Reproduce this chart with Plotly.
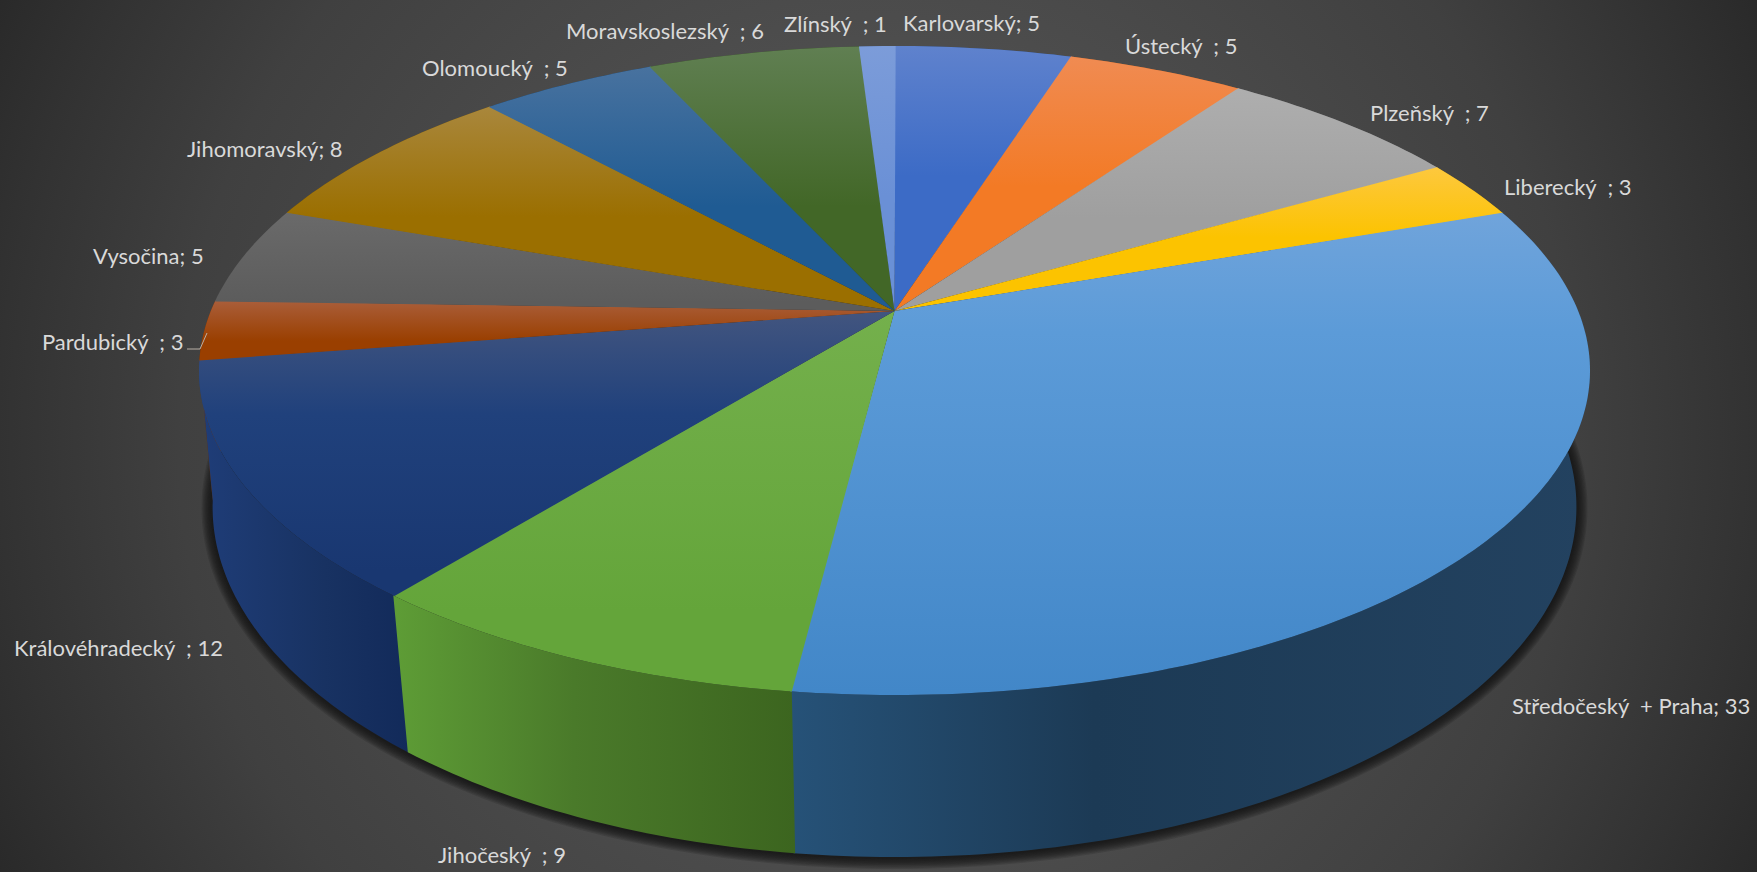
import numpy as np
import plotly.graph_objects as go

# ---- data ----
categories = ["Karlovarský", "Ústecký  ", "Plzeňský  ", "Liberecký  ", "Středočeský  + Praha", "Jihočeský  ",
              "Královéhradecký  ", "Pardubický  ", "Vysočina", "Jihomoravský", "Olomoucký  ",
              "Moravskoslezský  ", "Zlínský  "]
values = [5, 5, 7, 3, 33, 9, 12, 3, 5, 8, 5, 6, 1]

# ---- styles ----
top_stops = [
    [(0, "#5f82cd"), (1, "#3c6bc6")],
    [(0, "#f08b52"), (1, "#f37a25")],
    [(0, "#aeaeae"), (1, "#9f9f9f")],
    [(0, "#fdc83e"), (1, "#fcc300")],
    [(0, "#70a4db"), (0.25, "#5c9bd8"), (1, "#4287c8")],
    [(0, "#74b04c"), (1, "#64a53a")],
    [(0, "#42557f"), (0.4, "#20417c"), (1, "#193771")],
    [(0, "#aa5e3a"), (1, "#9a3f00")],
    [(0, "#6a6a6a"), (1, "#5c5c5c")],
    [(0, "#a9873c"), (1, "#9b6f00")],
    [(0, "#48729f"), (1, "#1f5b93")],
    [(0, "#607f52"), (1, "#426727")],
    [(0, "#7c9cd9"), (1, "#6a90d6")],
]
top_reach = [130, 130, 130, 70, 480, 300, 260, 40, 90, 110, 140, 160, 150]
wall_stops = [
    [(0, "#2c4f8c"), (1, "#2c4f8c")],
    [(0, "#a8561b"), (1, "#a8561b")],
    [(0, "#6e6e6e"), (1, "#6e6e6e")],
    [(0, "#ad8600"), (1, "#ad8600")],
    [(0, "#265278"), (0.38, "#1c3a55"), (1, "#234260")],
    [(0, "#5e9d36"), (0.45, "#4a7a2a"), (1, "#3c651f")],
    [(0, "#1f3d78"), (0.6, "#183262"), (1, "#122a5a")],
    [(0, "#6b2d00"), (1, "#6b2d00")],
    [(0, "#404040"), (1, "#404040")],
    [(0, "#6b4d00"), (1, "#6b4d00")],
    [(0, "#153f66"), (1, "#153f66")],
    [(0, "#2e481b"), (1, "#2e481b")],
    [(0, "#4a6595"), (1, "#4a6595")],
]
label_centres = [(971, 22), (1181, 45), (1429, 112), (1568, 186), (1631, 705), (502, 854),
                 (118, 647), (112, 341), (148, 255), (265, 148), (495, 67), (665, 30), (835, 23)]
TEXT = "#d9d9d9"

# ---- perspective of the upper and lower discs ----
CX = 894.5
UP = dict(apex=311.0, A=683.7, B=313.6, c=0.1834)
LOW = dict(apex=447.5, A=672.0, B=339.9, c=0.17)
SEAM = 0.002


def rim(d, theta):
    s, k = np.sin(theta), np.cos(theta)
    w = 1 + d["c"] * k
    return CX + d["A"] * s / w, d["apex"] - d["B"] * k / w


def scale(stops):
    return [[p, c] for p, c in stops]


total = sum(values)
edges = np.cumsum([0] + values) / total * 2 * np.pi
traces = []

# background
side = 1000
traces.append(go.Scatter(
    x=[878 - side, 878 + side, 878 + side, 878 - side, 878 - side],
    y=[436 - side, 436 - side, 436 + side, 436 + side, 436 - side],
    mode="none", fill="toself", hoverinfo="skip", showlegend=False,
    fillgradient=dict(type="radial", colorscale=[[0, "#5e5e5e"], [0.42, "#4c4c4c"], [0.7, "#404040"],
                                                 [0.88, "#323232"], [1, "#282828"]])))

# soft shadow under the pie
t_all = np.linspace(0, 2 * np.pi, 361)
for i in range(9):
    grow = 11 - i * 1.3
    lx, ly = rim(LOW, t_all)
    x = CX + (lx - CX) * (1 + grow / 682)
    y = 507 + (ly - 507) * (1 + grow / 350) + 1
    traces.append(go.Scatter(x=x, y=y, mode="none", fill="toself", hoverinfo="skip", showlegend=False,
                             fillcolor="rgba(20,20,20,0.16)"))

# walls (back ones first so the near ones sit on top)
order = sorted(range(len(values)), key=lambda j: -abs(((edges[j] + edges[j + 1]) / 2) - np.pi))
for j in order:
    t = np.linspace(edges[j], edges[j + 1] + SEAM, max(3, int(values[j] * 4)))
    ux, uy = rim(UP, t)
    lx, ly = rim(LOW, t[::-1])
    x = np.r_[ux, lx, ux[0]]
    y = np.r_[uy, ly, uy[0]]
    traces.append(go.Scatter(
        x=x, y=y, mode="none", fill="toself", hoverinfo="skip", showlegend=False,
        fillgradient=dict(type="horizontal", colorscale=scale(wall_stops[j]),
                          start=float(x.min()), stop=float(x.max()))))

# top faces
for j in range(len(values)):
    t = np.linspace(edges[j], edges[j + 1] + SEAM, max(3, int(values[j] * 4)))
    ux, uy = rim(UP, t)
    x = np.r_[CX, ux, CX]
    y = np.r_[UP["apex"], uy, UP["apex"]]
    start = float(y.min())
    traces.append(go.Scatter(
        x=x, y=y, mode="none", fill="toself", hoverinfo="skip", showlegend=False,
        fillgradient=dict(type="vertical", colorscale=scale(top_stops[j]),
                          start=start, stop=start + top_reach[j])))

# leader of the Pardubický label
traces.append(go.Scatter(x=[187, 200, 207], y=[349, 349, 333], mode="lines", hoverinfo="skip", showlegend=False,
                         line=dict(color="#b9b0a6", width=1)))

annotations = [dict(x=px, y=py, xref="x", yref="y", text=f"{c}; {v}", showarrow=False,
                    xanchor="center", yanchor="middle",
                    font=dict(family="Lato", size=22, color=TEXT))
               for c, v, (px, py) in zip(categories, values, label_centres)]

fig = go.Figure(traces)
fig.update_layout(
    width=1757, height=872, margin=dict(l=0, r=0, t=0, b=0),
    paper_bgcolor="#3c3c3c", plot_bgcolor="#3c3c3c", showlegend=False,
    xaxis=dict(range=[0, 1757], visible=False, fixedrange=True),
    yaxis=dict(range=[872, 0], visible=False, fixedrange=True),
    annotations=annotations)
fig.write_html("out.html", post_script="document.body.style.margin='0';document.body.style.overflow='hidden';",
               config={"displayModeBar": False})
